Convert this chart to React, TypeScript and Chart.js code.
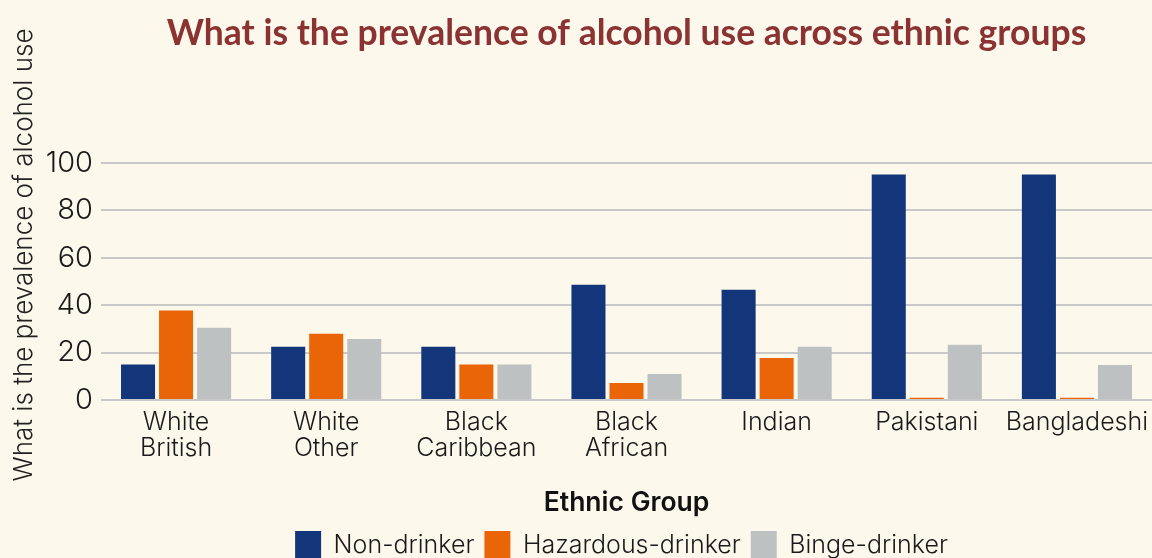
import React, { useEffect, useRef } from "react";
import { Chart, registerables } from "chart.js";

Chart.register(...registerables);

const categories: (string | string[])[] = [
  ["White", "British"],
  ["White", "Other"],
  ["Black", "Caribbean"],
  ["Black", "African"],
  "Indian",
  "Pakistani",
  "Bangladeshi",
];
const nonDrinker = [15, 22.5, 22.5, 48.7, 46.5, 95.2, 95.2];
const hazardousDrinker = [37.8, 28, 15, 7.2, 17.8, 1, 1];
const bingeDrinker = [30.5, 25.8, 15, 11, 22.5, 23.3, 14.8];
const yTicks = [0, 20, 40, 60, 80, 100];

const TITLE = "What is the prevalence of alcohol use across ethnic groups";
const Y_TITLE = "What is the prevalence of alcohol use";
const X_TITLE = "Ethnic Group";
const BG = "#FDF8EC";

const bgPlugin = {
  id: "bgFill",
  beforeDraw(chart: any) {
    const { ctx, width, height } = chart;
    ctx.save();
    ctx.fillStyle = BG;
    ctx.fillRect(0, 0, width, height);
    ctx.restore();
  },
};

const legendShiftPlugin = {
  id: "legendShift",
  afterLayout(chart: any) {
    const lg = chart.legend;
    if (lg) {
      lg.left -= 5;
      lg.right -= 5;
    }
  },
};

const yTitlePlugin = {
  id: "yTitle",
  afterDraw(chart: any) {
    const { ctx } = chart;
    ctx.save();
    ctx.translate(24, 255);
    ctx.rotate(-Math.PI / 2);
    ctx.font = "300 26px Inter";
    ctx.fillStyle = "#222222";
    ctx.textAlign = "center";
    ctx.textBaseline = "middle";
    ctx.fillText(Y_TITLE, 0, 0);
    ctx.restore();
  },
};

export default function App() {
  const ref = useRef<HTMLCanvasElement | null>(null);
  useEffect(() => {
    document.body.style.margin = "0";
    document.body.style.background = BG;
    if (!ref.current) return;
    const tickFont = { family: "Inter", size: 25, weight: "300" as any, lineHeight: 1.04 };
    const chart = new Chart(ref.current, {
      type: "bar",
      data: {
        labels: categories as any,
        datasets: [
          { label: "Non-drinker", data: nonDrinker, backgroundColor: "#13357A" },
          { label: "Hazardous-drinker", data: hazardousDrinker, backgroundColor: "#EA6408" },
          { label: "Binge-drinker", data: bingeDrinker, backgroundColor: "#BEC1C1" },
        ],
      },
      options: {
        responsive: false,
        animation: false,
        devicePixelRatio: 1,
        layout: { padding: { left: 0, right: 0, top: 0, bottom: 0 } },
        datasets: { bar: { categoryPercentage: 0.76, barPercentage: 0.895 } } as any,
        scales: {
          x: {
            afterFit(axis: any) {
              axis.paddingLeft = 0;
              axis.paddingRight = 0;
            },
            grid: { display: false, drawTicks: false },
            border: { display: false },
            ticks: { font: tickFont, color: "#1a1a1a", padding: 9, maxRotation: 0, autoSkip: false },
            title: {
              display: true,
              text: X_TITLE,
              font: { family: "Inter", size: 26.5, weight: "600" as any, lineHeight: 1.2 },
              color: "#111111",
              padding: { top: 17, bottom: 2.1 },
            },
          },
          y: {
            min: 0,
            max: 100,
            afterBuildTicks(axis: any) {
              axis.ticks = yTicks.map((v) => ({ value: v }));
            },
            afterFit(axis: any) {
              axis.width = 101;
            },
            grid: { color: "#C9C9C9", lineWidth: 2, drawTicks: false },
            border: { display: false },
            ticks: { font: { family: "Inter", size: 29, weight: "300" as any }, color: "#1a1a1a", padding: 8 },
          },
        },
        plugins: {
          title: {
            display: true,
            text: TITLE,
            fullSize: false,
            font: { family: "Lato", size: 35.5, weight: "bold", lineHeight: 1.2 },
            color: "#8B3232",
            padding: { top: 12, bottom: 108.4 },
          },
          legend: {
            position: "bottom",
            fullSize: false,
            labels: {
              boxWidth: 26,
              boxHeight: 28,
              padding: 10,
              font: { family: "Inter", size: 25, weight: "300" as any },
              color: "#1a1a1a",
            },
          },
          tooltip: { enabled: false },
        },
      },
      plugins: [bgPlugin, legendShiftPlugin, yTitlePlugin],
    });
    return () => chart.destroy();
  }, []);
  return (
    <canvas ref={ref} width={1152} height={569} style={{ display: "block", width: 1152, height: 569 }} />
  );
}
